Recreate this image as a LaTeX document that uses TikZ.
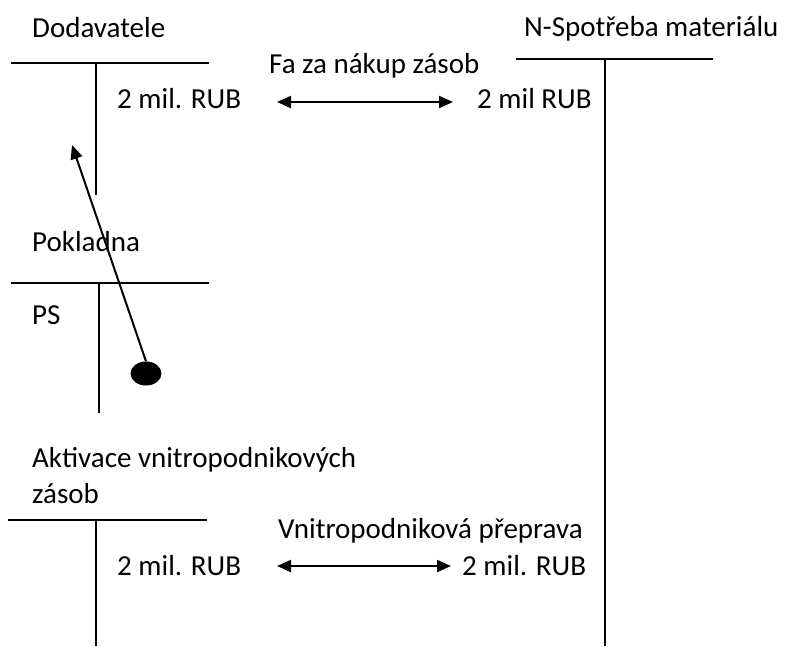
\documentclass[tikz,border=0pt]{standalone}
\usepackage{fontspec}
\setmainfont{Carlito}
\usetikzlibrary{arrows.meta,shapes.geometric}
\begin{document}
\begin{tikzpicture}[x=1pt,y=-1pt,
  lbl/.style={anchor=base west,inner sep=0pt,font=\fontsize{29}{35}\selectfont},
  tline/.style={line width=2.2pt},
  arr/.style={line width=2pt,{Triangle[length=14pt,width=12pt]}-{Triangle[length=14pt,width=12pt]}},
  onearr/.style={line width=2pt,-{Triangle[length=14pt,width=12pt]}},
  dotstyle/.style={fill=black,ellipse,minimum width=31pt,minimum height=24pt,inner sep=0pt}]
\useasboundingbox[fill=white] (0,0) rectangle (786,646);
% Dodavatele account
\node[lbl] (dod) at (32,37) {Dodavatele};
\coordinate (dodL) at (11,63); \coordinate (dodR) at (209,63);
\coordinate (dodT) at (96,63); \coordinate (dodB) at (96,195);
\draw[tline] (dodL) -- (dodR);
\draw[tline] (dodT) -- (dodB);
\node[lbl] (dodv) at (117,108) {2 mil. RUB};
% N-Spotreba account
\node[lbl] (nsp) at (524,36) {N-Spotřeba materiálu};
\coordinate (nspL) at (516,59); \coordinate (nspR) at (713,59);
\coordinate (nspT) at (605,59); \coordinate (nspB) at (605,646);
\draw[tline] (nspL) -- (nspR);
\draw[tline] (nspT) -- (nspB);
\node[lbl] (nspv) at (477,108) {2 mil RUB};
% top transaction
\node[lbl] (fa) at (269,73) {Fa za nákup zásob};
\coordinate (a1) at (277,102); \coordinate (a2) at (453,102);
\draw[arr] (a1) -- (a2);
% Pokladna account
\node[lbl] (pok) at (32,251) {Pokladna};
\coordinate (pokL) at (11,283); \coordinate (pokR) at (209,283);
\coordinate (pokT) at (99,283); \coordinate (pokB) at (99,413);
\draw[tline] (pokL) -- (pokR);
\draw[tline] (pokT) -- (pokB);
\node[lbl] (ps) at (32,324) {PS};
\node[dotstyle] (dot) at (146,373.5) {};
\coordinate (tip) at (72,145);
\draw[onearr] (dot.north) -- (tip);
% Aktivace account
\node[lbl] (akt1) at (32,467) {Aktivace vnitropodnikových};
\node[lbl] (akt2) at (32,503) {zásob};
\coordinate (aktL) at (8,520); \coordinate (aktR) at (207,520);
\coordinate (aktT) at (96,520); \coordinate (aktB) at (96,646);
\draw[tline] (aktL) -- (aktR);
\draw[tline] (aktT) -- (aktB);
\node[lbl] (aktv) at (117,575) {2 mil. RUB};
\node[lbl] (nspv2) at (462,575) {2 mil. RUB};
\node[lbl] (vn) at (278,538) {Vnitropodniková přeprava};
\coordinate (b1) at (277,566); \coordinate (b2) at (451,566);
\draw[arr] (b1) -- (b2);
\end{tikzpicture}
\end{document}
